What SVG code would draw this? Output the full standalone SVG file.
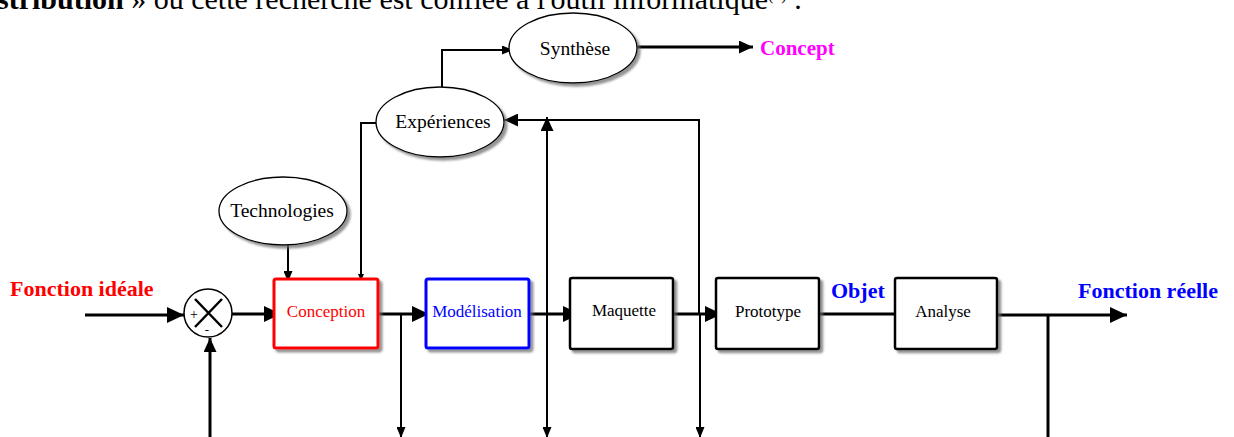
<svg xmlns="http://www.w3.org/2000/svg" width="1234" height="437" viewBox="0 0 1234 437">
<style>
.serif{font-family:"Liberation Serif","Times New Roman",serif;}
.box{fill:#fff;stroke:#000;stroke-width:2.5;filter:url(#sh);}
.ell{fill:#fff;stroke:#000;stroke-width:1.3;filter:url(#sh);}
.lbl{font-family:"Liberation Serif","Times New Roman",serif;font-size:17px;text-anchor:middle;fill:#000;}
.elbl{font-family:"Liberation Serif","Times New Roman",serif;font-size:19.5px;text-anchor:middle;fill:#000;}
.big{font-family:"Liberation Serif","Times New Roman",serif;font-size:22px;font-weight:bold;}
.thick{fill:none;stroke:#000;stroke-width:3;}
.thin{fill:none;stroke:#000;stroke-width:2;}
</style>
<defs>
<filter id="sh" x="-20%" y="-20%" width="140%" height="150%">
<feDropShadow dx="3" dy="3" stdDeviation="1.2" flood-color="#666" flood-opacity="0.7"/>
</filter>
<marker id="aBig" markerUnits="userSpaceOnUse" markerWidth="17" markerHeight="16" refX="17" refY="8" orient="auto"><path d="M0,0 L17,8 L0,16 z" fill="#000"/></marker>
<marker id="aMid" markerUnits="userSpaceOnUse" markerWidth="14" markerHeight="13" refX="14" refY="6.5" orient="auto"><path d="M0,0 L14,6.5 L0,13 z" fill="#000"/></marker>
<marker id="aSm" markerUnits="userSpaceOnUse" markerWidth="11" markerHeight="9" refX="11" refY="4.5" orient="auto"><path d="M0,0 L11,4.5 L0,9 z" fill="#000"/></marker>
<marker id="aTiny" markerUnits="userSpaceOnUse" markerWidth="7" markerHeight="6" refX="7" refY="3" orient="auto"><path d="M0,0 L7,3 L0,6 z" fill="#000"/></marker>
</defs>
<rect width="1234" height="437" fill="#fff"/>

<text class="serif" x="-3" y="9" font-size="30" fill="#000"><tspan font-weight="bold">stribution</tspan> » où cette recherche est confiée à l'outil informatique<tspan font-size="16" dy="-9">(1)</tspan><tspan dy="9"> .</tspan></text>

<g id="connectors">
<path class="thick" d="M85,315 L184,315" marker-end="url(#aBig)"/>
<path class="thick" d="M232,314 L281,314" marker-end="url(#aBig)"/>
<path class="thick" d="M378,314 L429,314" marker-end="url(#aBig)"/>
<path class="thick" d="M529,314 L580,314" marker-end="url(#aBig)"/>
<path class="thick" d="M673,314 L722,314" marker-end="url(#aBig)"/>
<path class="thick" d="M819,314 L895,314"/>
<path class="thick" d="M997,315 L1127,315" marker-end="url(#aBig)"/>
<path class="thick" d="M1048,315 L1048,437"/>
<path class="thick" d="M210,437 L210,338" marker-end="url(#aMid)"/>
<path class="thin" d="M401,314 L401,438" marker-end="url(#aSm)"/>
<path class="thin" d="M547,437 L547,117" marker-end="url(#aMid)"/>
<path class="thin" d="M547,300 L547,438" marker-end="url(#aSm)"/>
<path class="thin" d="M699,314 L699,120 L504,120" marker-end="url(#aMid)"/>
<path class="thin" d="M700,314 L700,438" marker-end="url(#aSm)"/>
<path class="thin" d="M377,123 L361,123 L361,281" marker-end="url(#aTiny)"/>
<path class="thin" d="M288,245 L288,282" marker-end="url(#aSm)"/>
<path class="thin" d="M442,88 L442,50 L513,50" marker-end="url(#aSm)"/>
<path class="thick" d="M637,47 L753,47" marker-end="url(#aMid)"/>
</g>

<g id="sum">
<circle cx="208" cy="313" r="24" fill="#fff" stroke="#000" stroke-width="1.5"/>
<path d="M195,299 L222,327 M222,299 L195,327" stroke="#000" stroke-width="2.5"/>
<text class="serif" x="194" y="319" font-size="14" text-anchor="middle">+</text>
<text class="serif" x="207" y="334" font-size="13" text-anchor="middle">-</text>
</g>

<g id="fonction-ideale"><text class="big" x="10" y="296" fill="#ff0000">Fonction idéale</text></g>

<g id="conception">
<rect x="274" y="279" width="104" height="69" rx="2" fill="#fff" stroke="#ff0000" stroke-width="3" filter="url(#sh)"/>
<text class="lbl" x="326" y="317" fill="#ff0000" style="fill:#ff0000">Conception</text>
</g>
<g id="modelisation">
<rect x="426" y="279" width="103" height="69" rx="2" fill="#fff" stroke="#0000ff" stroke-width="3" filter="url(#sh)"/>
<text class="lbl" x="477" y="317" style="fill:#0000ff">Modélisation</text>
</g>
<g id="maquette">
<rect class="box" x="570" y="278" width="103" height="71" rx="2"/>
<text class="lbl" x="624" y="316">Maquette</text>
</g>
<g id="prototype">
<rect class="box" x="716" y="278" width="103" height="71" rx="2"/>
<text class="lbl" x="768" y="317">Prototype</text>
</g>
<g id="objet"><text class="big" x="831" y="298" fill="#0000ff">Objet</text></g>
<g id="analyse">
<rect class="box" x="895" y="278" width="102" height="71" rx="2"/>
<text class="lbl" x="943" y="317">Analyse</text>
</g>
<g id="fonction-reelle"><text class="big" x="1078" y="298" fill="#0000ff">Fonction réelle</text></g>

<g id="technologies">
<ellipse class="ell" cx="283" cy="211" rx="64" ry="34"/>
<text class="elbl" x="282" y="217">Technologies</text>
</g>
<g id="experiences">
<ellipse class="ell" cx="440" cy="122" rx="64" ry="35"/>
<text class="elbl" x="443" y="128">Expériences</text>
</g>
<g id="synthese">
<ellipse class="ell" cx="573" cy="48" rx="64" ry="35"/>
<text class="elbl" x="575" y="55">Synthèse</text>
</g>
<g id="concept"><text class="big" x="760" y="55" font-size="21" fill="#ff00ff" style="font-size:21px">Concept</text></g>
</svg>
